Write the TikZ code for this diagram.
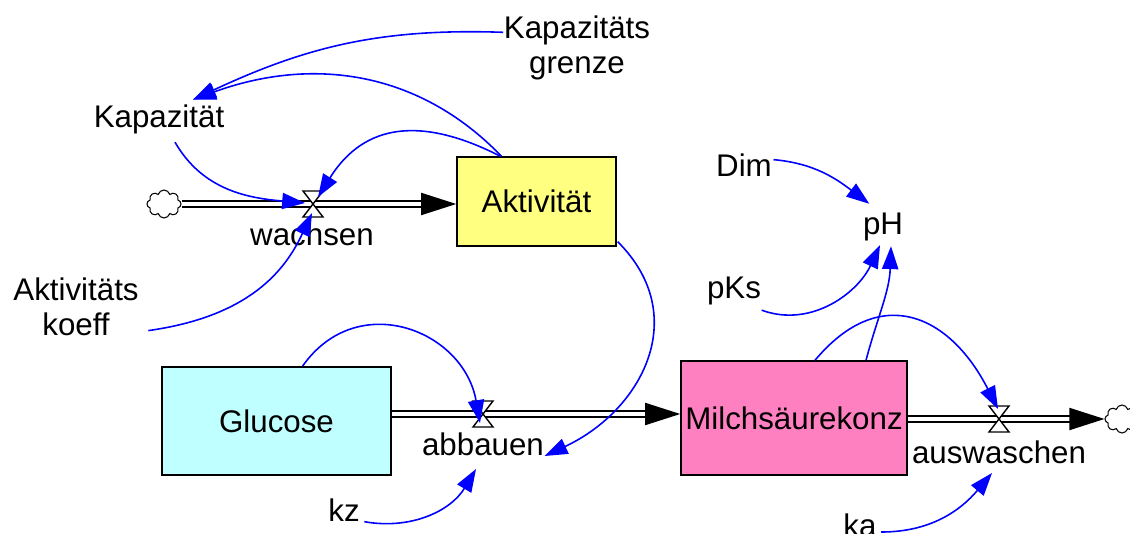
\documentclass[tikz,border=0pt]{standalone}
\usepackage{fontspec}
\setmainfont{Liberation Sans}
\usetikzlibrary{arrows.meta,shapes.symbols,calc}
\definecolor{aktfill}{HTML}{FFFF80}
\definecolor{glufill}{HTML}{C0FFFF}
\definecolor{milfill}{HTML}{FF80C0}
\begin{document}
\begin{tikzpicture}[x=0.01cm,y=0.01cm,
    font=\fontsize{8.9}{9.9}\selectfont,
    stock/.style={draw,line width=0.4pt,inner sep=0pt},
    var/.style={inner sep=0pt,align=center},
    pipe/.style={draw=black,double=white,line width=0.45pt,double distance=1.4pt,
      -{Triangle[length=10pt,width=6.3pt,fill=black]}},
    link/.style={blue,line width=0.45pt,-{Triangle[length=6.5pt,width=4.6pt]}},
    sink/.style={cloud,cloud puffs=8,draw,line width=0.3pt,inner sep=0pt,
      minimum width=0.34cm,minimum height=0.28cm},
    valve/.pic={\draw[fill=white,line width=0.4pt] (-10,13) -- (10,13) -- (-10,-13) -- (10,-13) -- cycle;}]
  \useasboundingbox (0,0) rectangle (1130,533);
  % stocks
  \node[stock,fill=aktfill,minimum width=1.59cm,minimum height=0.89cm] (akt) at (536.5,331.5) {Aktivität};
  \node[stock,fill=glufill,minimum width=2.29cm,minimum height=1.08cm] (gluc) at (276.5,112) {Glucose};
  \node[stock,fill=milfill,minimum width=2.26cm,minimum height=1.14cm] (milch) at (794,115) {Milchsäurekonz};
  \node[sink] (cl1) at (164,329) {};
  \node[sink] (cl2) at (1122,114) {};
  \coordinate (vw) at (313,329);
  \coordinate (va) at (483,119);
  \coordinate (vs) at (999,114);
  % flows
  \draw[pipe] (cl1.east) -- (akt.west |- cl1.east);
  \draw[pipe] (gluc.east |- va) -- (milch.west |- va);
  \draw[pipe] (milch.east |- vs) -- (cl2.west);
  \pic at (vw) {valve};
  \pic at (va) {valve};
  \pic at (vs) {valve};
  \node[var,anchor=base] (wl) at (312,287) {wachsen};
  \node[var,anchor=base] (abl) at (483,78) {abbauen};
  \node[var,anchor=base] (asl) at (999,70) {auswaschen};
  % auxiliaries
  \node[var] (kapgr) at (577,485) {Kapazitäts\\grenze};
  \node[var,anchor=base] (kap) at (159,405) {Kapazität};
  \node[var] (koeff) at (76,226) {Aktivitäts\\koeff};
  \node[var,anchor=base] (dim) at (744,356) {Dim};
  \node[var,anchor=base] (ph) at (883,298) {pH};
  \node[var,anchor=base] (pks) at (734,235) {pKs};
  \node[var,anchor=base] (kz) at (344,12) {kz};
  \node[var,anchor=base] (ka) at (860,-3) {ka};
  % links
  \draw[link] (kapgr.168) to[out=178,in=25] ($(kap.north)+(34,5)$);
  \draw[link] ($(akt.north)+(-35,0)$) to[out=134,in=20] ($(kap.north)+(34,5)$);
  \draw[link] ($(akt.north)+(-36,0)$) to[out=153,in=58,looseness=1.2] ($(vw)+(5,7)$);
  \draw[link] ($(kap.south)+(16,-7)$) to[out=-60,in=175] ($(vw)+(-8,1)$);
  \draw[link] ($(koeff.south east)+(9,6)$) to[out=8,in=245,out looseness=1.3,in looseness=0.8] ($(vw)+(-1,-9)$);
  \draw[link] ($(gluc.north)+(26,0)$) to[out=55,in=100,looseness=1.3] ($(va)+(-3,-9)$);
  \draw[link] ($(akt.south east)+(1,5)$) to[out=-45,in=25,looseness=1.2] (abl.south east);
  \draw[link] ($(kz.south east)+(4,0)$) to[out=-10,in=239] ($(abl.south)+(-7,-13)$);
  \draw[link] ($(dim.east)+(1,6)$) to[out=-5,in=143] ($(ph.north west)+(7,9)$);
  \draw[link] ($(pks.south east)+(0,-5)$) to[out=-20,in=245] ($(ph.south)+(-3,-3)$);
  \draw[link] ($(milch.north)+(72,0)$) to[out=75,in=268] ($(ph.south)+(8,-4)$);
  \draw[link] ($(milch.north)+(21,0)$) to[out=50,in=117,looseness=1.4] ($(vs)+(-1,10)$);
  \draw[link] ($(ka.south east)+(4,5)$) to[out=0,in=230] ($(asl.south)+(-7,-9)$);
\end{tikzpicture}
\end{document}
